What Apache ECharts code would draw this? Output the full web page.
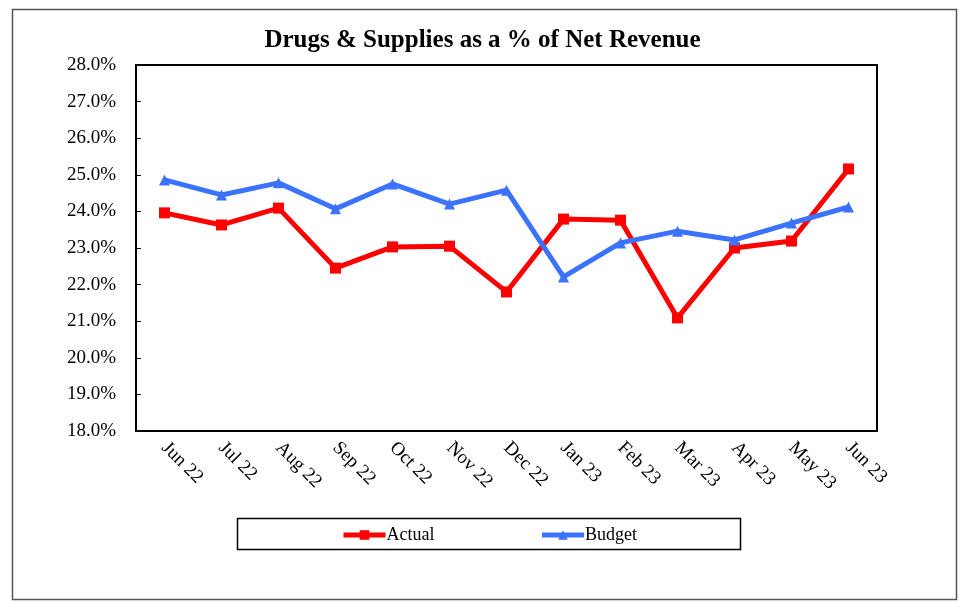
<!DOCTYPE html>
<html>
<head>
<meta charset="utf-8">
<script src="https://cdn.jsdelivr.net/npm/echarts@6/dist/echarts.min.js"></script>
<style>html,body{margin:0;padding:0;background:#fff}#c{width:965px;height:602px}</style>
</head>
<body>
<div id="c"></div>
<script>
const categories = ['Jun 22','Jul 22','Aug 22','Sep 22','Oct 22','Nov 22','Dec 22','Jan 23','Feb 23','Mar 23','Apr 23','May 23','Jun 23'];
const actual = [23.96, 23.63, 24.09, 22.45, 23.03, 23.05, 21.80, 23.79, 23.76, 21.09, 23.00, 23.19, 25.16];
const budget = [24.86, 24.45, 24.78, 24.07, 24.75, 24.20, 24.58, 22.21, 23.14, 23.46, 23.22, 23.68, 24.12];
const yMin = 18, yMax = 28, yStep = 1;

const FONT = '"Liberation Serif", "DejaVu Serif", serif';
const chart = echarts.init(document.getElementById('c'));
chart.setOption({
  animation: false,
  backgroundColor: '#fff',
  textStyle: { fontFamily: FONT },
  title: {
    text: 'Drugs & Supplies as a % of Net Revenue',
    left: 'center', top: 23,
    textStyle: { fontFamily: FONT, fontSize: 25, fontWeight: 'bold', color: '#000' }
  },
  graphic: [
    { type: 'rect', shape: { x: 12.5, y: 9.5, width: 944, height: 590 }, style: { fill: null, stroke: '#555', lineWidth: 1.5 }, z: -1 },
    { type: 'rect', shape: { x: 237.5, y: 518.5, width: 503, height: 31 }, style: { fill: null, stroke: '#000', lineWidth: 1.5 }, z: -1 }
  ],
  legend: {
    top: 521, left: 336, height: 26,
    itemGap: 105, itemWidth: 42, itemHeight: 12,
    lineStyle: { width: 5 },
    textStyle: { fontFamily: FONT, fontSize: 18, color: '#000', padding: [0,0,0,-4] },
    data: ['Actual', 'Budget']
  },
  grid: { left: 136, right: 88, top: 65, bottom: 171, show: true, borderColor: '#000', borderWidth: 2 },
  xAxis: {
    type: 'category', data: categories, boundaryGap: true,
    axisLine: { lineStyle: { color: '#000', width: 2 } },
    axisTick: { inside: true, alignWithLabel: true, length: 5, lineStyle: { color: '#000' } },
    axisLabel: { rotate: -45, fontFamily: FONT, fontSize: 19, color: '#000', margin: 14 }
  },
  yAxis: {
    type: 'value', min: yMin, max: yMax, interval: yStep,
    splitLine: { show: false },
    axisLine: { show: true, lineStyle: { color: '#000', width: 2 } },
    axisTick: { show: true, inside: true, length: 5, lineStyle: { color: '#000' } },
    axisLabel: { formatter: v => v.toFixed(1) + '%', fontFamily: FONT, fontSize: 19, color: '#000', margin: 20 }
  },
  series: [
    { name: 'Actual', type: 'line', data: actual, color: '#ff0000',
      symbol: 'rect', symbolSize: 11, lineStyle: { width: 5, color: '#ff0000' }, itemStyle: { color: '#ff0000' } },
    { name: 'Budget', type: 'line', data: budget, color: '#3b72ff',
      symbol: 'triangle', symbolSize: 11, lineStyle: { width: 5, color: '#3b72ff' }, itemStyle: { color: '#3b72ff' } }
  ]
});
</script>
</body>
</html>
